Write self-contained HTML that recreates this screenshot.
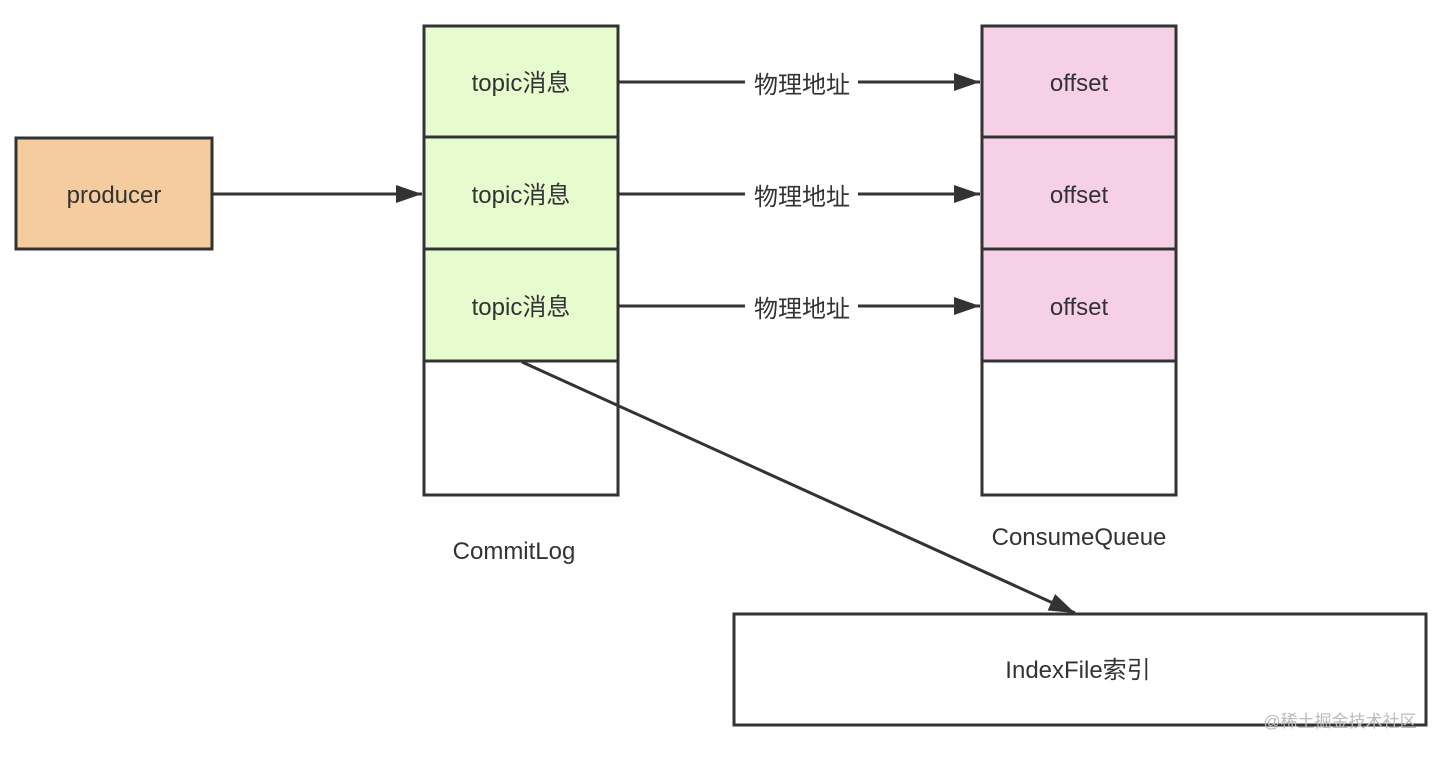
<!DOCTYPE html>
<html><head><meta charset="utf-8"><style>
html,body{margin:0;padding:0;background:#fff;}
text{font-family:"Liberation Sans","Noto Sans CJK SC",sans-serif;fill:#333;}
</style></head><body>
<svg width="1446" height="752" viewBox="0 0 1446 752" xmlns="http://www.w3.org/2000/svg">
<defs><marker id="a" markerWidth="10" markerHeight="10" refX="9" refY="5" orient="auto" markerUnits="userSpaceOnUse"><path d="M0,0 L10,5 L0,10 z" fill="#333"/></marker>
<marker id="b" markerWidth="26" markerHeight="18" refX="26" refY="9" orient="auto" markerUnits="userSpaceOnUse"><path d="M0,0 L26,9 L0,18 z" fill="#333"/></marker></defs>
<g stroke="#333" stroke-width="3">
<rect x="16" y="138" width="196" height="111" fill="#f5cc9e"/>
<rect x="424" y="26" width="194" height="111" fill="#e6fccf"/>
<rect x="424" y="137" width="194" height="112" fill="#e6fccf"/>
<rect x="424" y="249" width="194" height="112" fill="#e6fccf"/>
<rect x="424" y="361" width="194" height="134" fill="#fff"/>
<rect x="982" y="26" width="194" height="111" fill="#f5d0e6"/>
<rect x="982" y="137" width="194" height="112" fill="#f5d0e6"/>
<rect x="982" y="249" width="194" height="112" fill="#f5d0e6"/>
<rect x="982" y="361" width="194" height="134" fill="#fff"/>
<rect x="734" y="614" width="692" height="111" fill="#fff"/>
<line x1="212" y1="194" x2="422" y2="194" marker-end="url(#b)"/>
<line x1="618" y1="82" x2="745" y2="82"/><line x1="858" y1="82" x2="980" y2="82" marker-end="url(#b)"/>
<line x1="618" y1="194" x2="745" y2="194"/><line x1="858" y1="194" x2="980" y2="194" marker-end="url(#b)"/>
<line x1="618" y1="306" x2="745" y2="306"/><line x1="858" y1="306" x2="980" y2="306" marker-end="url(#b)"/>
<line x1="522" y1="362" x2="1075" y2="613" marker-end="url(#b)"/>
</g>
<g font-size="24" text-anchor="middle">
<text x="114" y="203">producer</text>
<text x="521" y="91">topic消息</text>
<text x="521" y="203">topic消息</text>
<text x="521" y="315">topic消息</text>
<text x="802" y="93">物理地址</text>
<text x="802" y="205">物理地址</text>
<text x="802" y="317">物理地址</text>
<text x="1079" y="91">offset</text>
<text x="1079" y="203">offset</text>
<text x="1079" y="315">offset</text>
<text x="514" y="559">CommitLog</text>
<text x="1079" y="545">ConsumeQueue</text>
<text x="1078" y="678">IndexFile索引</text>
</g>
<text x="1340" y="727" font-size="17" text-anchor="middle" style="fill:#bbb">@稀土掘金技术社区</text>
</svg>
</body></html>
